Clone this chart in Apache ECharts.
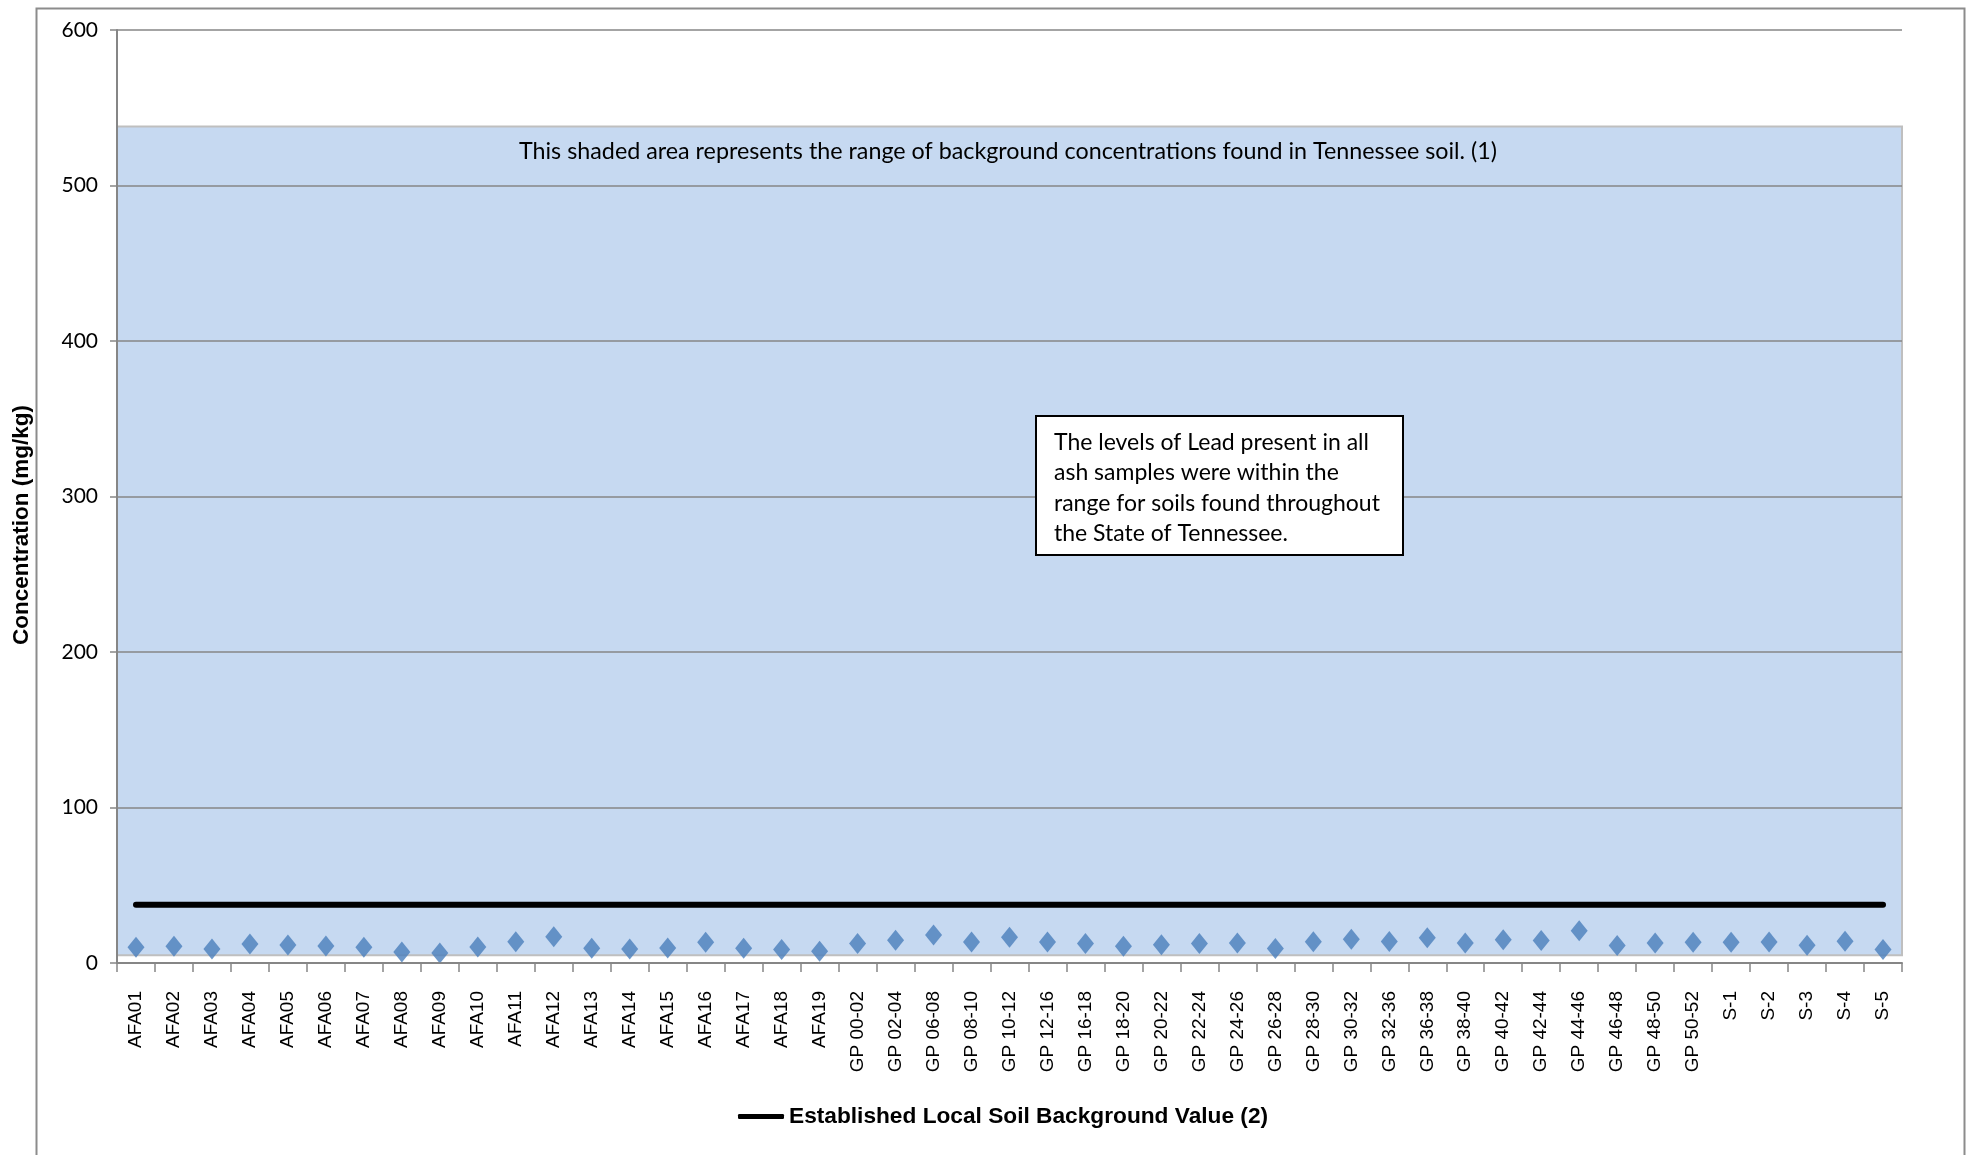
<!DOCTYPE html>
<html>
<head>
<meta charset="utf-8">
<script src="https://cdn.jsdelivr.net/npm/echarts@6/dist/echarts.min.js"></script>
<style>
html,body{margin:0;padding:0;background:#fff;}
#chart{width:1979px;height:1155px;}
</style>
</head>
<body>
<div id="chart"></div>
<script>
const categories = ["AFA01","AFA02","AFA03","AFA04","AFA05","AFA06","AFA07","AFA08","AFA09","AFA10",
  "AFA11","AFA12","AFA13","AFA14","AFA15","AFA16","AFA17","AFA18","AFA19",
  "GP 00-02","GP 02-04","GP 06-08","GP 08-10","GP 10-12","GP 12-16","GP 16-18","GP 18-20","GP 20-22",
  "GP 22-24","GP 24-26","GP 26-28","GP 28-30","GP 30-32","GP 32-36","GP 36-38","GP 38-40","GP 40-42",
  "GP 42-44","GP 44-46","GP 46-48","GP 48-50","GP 50-52","S-1","S-2","S-3","S-4","S-5"];
const leadValues = [10.2,10.7,9.0,12.2,11.6,10.9,10.1,7.1,6.4,10.3,
  13.6,16.9,9.5,9.0,9.6,13.3,9.5,8.7,7.6,
  12.5,14.6,18.0,13.5,16.6,13.5,12.6,10.7,11.7,
  12.5,12.8,9.4,13.7,15.3,13.8,16.2,12.8,15.0,
  14.5,20.7,11.2,12.8,13.3,13.3,13.5,11.4,14.0,8.7];
const localBackground = 37.5;
const tennesseeRange = [5, 538];
const yTicks = {min: 0, max: 600, interval: 100};
const lineName = "Established Local Soil Background Value (2)";
const yTitle = "Concentration (mg/kg)";

const chart = echarts.init(document.getElementById('chart'));
const option = {
  animation: false,
  backgroundColor: '#ffffff',
  grid: {left: 117, right: 77, top: 30, bottom: 192, containLabel: false},
  xAxis: {
    type: 'category',
    data: categories,
    boundaryGap: true,
    axisLine: {lineStyle: {color: '#868686', width: 2}},
    axisTick: {show: true, interval: 0, length: 9, lineStyle: {color: '#868686', width: 1.5}},
    axisLabel: {interval: 0, rotate: 90, color: '#000', fontFamily: 'Liberation Sans', fontSize: 19, margin: 28},
    splitLine: {show: false}
  },
  yAxis: {
    type: 'value',
    z: 5,
    min: yTicks.min, max: yTicks.max, interval: yTicks.interval,
    axisLine: {show: true, lineStyle: {color: '#868686', width: 2}},
    axisTick: {show: true, length: 7, lineStyle: {color: '#868686', width: 1.5}},
    axisLabel: {color: '#000', fontFamily: 'Lato', fontSize: 21, margin: 19},
    splitLine: {show: true, lineStyle: {color: '#868686', width: 1.5}}
  },
  legend: {
    show: true,
    data: [lineName],
    left: 733, top: 1100,
    icon: 'roundRect',
    itemWidth: 46, itemHeight: 5,
    itemGap: 10,
    textStyle: {fontFamily: 'Liberation Sans', fontWeight: 'bold', fontSize: 22.7, color: '#000'}
  },
  series: [
    {
      name: 'Lead',
      type: 'scatter',
      data: leadValues,
      symbol: 'diamond',
      symbolSize: [17, 21],
      itemStyle: {color: '#4A7EBB'},
      z: 4,
      markArea: {
        silent: true,
        itemStyle: {color: '#C6D9F1', borderColor: '#BFBFBF', borderWidth: 2},
        data: [[{yAxis: tennesseeRange[0]}, {yAxis: tennesseeRange[1]}]]
      }
    },
    {
      name: lineName,
      type: 'line',
      data: [[categories[0], localBackground], [categories[categories.length - 1], localBackground]],
      symbol: 'none',
      lineStyle: {color: '#000', width: 6, cap: 'round'},
      itemStyle: {color: '#000'},
      z: 3
    }
  ],
  graphic: [
    {
      type: 'rect', left: 34, top: 6, z: 100, silent: true,
      shape: {width: 1928, height: 1170},
      style: {fill: 'none', stroke: '#8C8C8C', lineWidth: 2}
    },
    {
      type: 'text', z: 100,
      x: 1008, y: 140,
      style: {text: 'This shaded area represents the range of background concentrations found in Tennessee soil. (1)',
        font: '23.3px Lato', fill: '#000', align: 'center', verticalAlign: 'top'}
    },
    {
      type: 'text', z: 100,
      x: 10, y: 525, rotation: Math.PI / 2,
      style: {text: yTitle, font: 'bold 22.5px "Liberation Sans"', fill: '#000', align: 'center', verticalAlign: 'top'}
    },
    {
      type: 'rect', z: 100, x: 1036, y: 416,
      shape: {x: 0, y: 0, width: 367, height: 139},
      style: {fill: '#ffffff', stroke: '#000000', lineWidth: 2}
    },
    {
      type: 'text', z: 101, x: 1054, y: 427,
      style: {text: 'The levels of Lead present in all\nash samples were within the\nrange for soils found throughout\nthe State of Tennessee.',
        font: '23px Lato', lineHeight: 30.5, fill: '#000'}
    }
  ]
};
chart.setOption(option);
</script>
</body>
</html>
